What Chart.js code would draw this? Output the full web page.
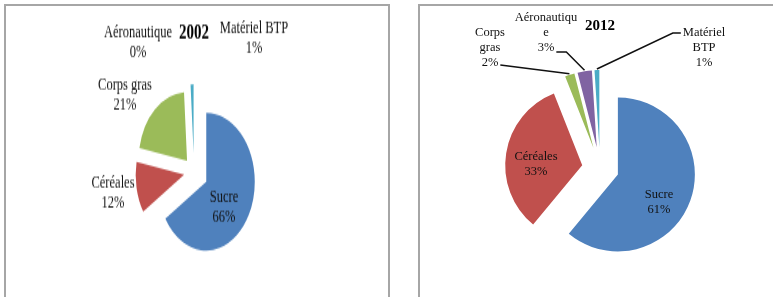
<!DOCTYPE html>
<html>
<head>
<meta charset="utf-8">
<script src="https://cdn.jsdelivr.net/npm/chart.js@4.4.1/dist/chart.umd.min.js"></script>
<style>
  body { margin: 0; background: #fff; width: 773px; height: 297px; overflow: hidden; position: relative; }
  .box { position: absolute; top: 4px; height: 300px; border: 2px solid #a6a6a6; border-bottom: none; box-sizing: border-box; }
  #box1 { left: 4px; width: 386px; }
  #box2 { left: 418px; width: 400px; border-right: none; }
  canvas { position: absolute; }
  /* the 2002 picture is stretched vertically in the source */
  #chart2002 { left: 6px; top: 6px; transform: scaleY(1.42); transform-origin: 0 0; }
  #chart2012 { left: 420px; top: 6px; }
</style>
</head>
<body>
<div class="box" id="box1"></div>
<div class="box" id="box2"></div>
<canvas id="chart2002" width="380" height="205"></canvas>
<canvas id="chart2012" width="353" height="291"></canvas>
<script>
const categories = ['Sucre', 'Céréales', 'Corps gras', 'Aéronautique', 'Matériel BTP'];
const share2002 = [66, 12, 21, 0, 1];
const share2012 = [61, 33, 2, 3, 1];
const colors = ['#4f81bd', '#c0504d', '#9bbb59', '#8064a2', '#4bacc6'];

// how each category name is broken on lines in the two charts
const names2002 = [['Sucre'], ['Céréales'], ['Corps gras'], ['Aéronautique'], ['Matériel BTP']];
const names2012 = [['Sucre'], ['Céréales'], ['Corps', 'gras'], ['Aéronautiqu', 'e'], ['Matériel', 'BTP']];

// pulls each slice out along its middle angle, then writes the labels
const pieExtras = {
  id: 'pieExtras',
  beforeDatasetsDraw(chart, args, opts) {
    const meta = chart.getDatasetMeta(0);
    meta.data.forEach((arc, i) => {
      const mid = (arc.startAngle + arc.endAngle) / 2;
      const d = opts.explode[i] || 0;
      arc._home = [arc.x, arc.y];
      arc.x += Math.cos(mid) * d;
      arc.y += Math.sin(mid) * d;
    });
  },
  afterDatasetsDraw(chart, args, opts) {
    const meta = chart.getDatasetMeta(0);
    const ctx = chart.ctx;
    const values = chart.data.datasets[0].data;
    const cx = meta.data[0]._home[0], cy = meta.data[0]._home[1];
    const lh = opts.lineHeight;
    ctx.save();
    ctx.font = opts.font;
    ctx.fillStyle = '#111';
    ctx.strokeStyle = '#111';
    ctx.lineWidth = 1.5;
    ctx.textAlign = 'center';
    ctx.textBaseline = 'middle';
    meta.data.forEach((arc, i) => {
      const lines = opts.names[i].concat([values[i] + '%']);
      const x = cx + opts.labelAt[i][0];
      const y0 = cy + opts.labelAt[i][1] - (lines.length - 1) * lh / 2;
      lines.forEach((t, j) => ctx.fillText(t, x, y0 + j * lh));
      const lead = opts.leaders[i];
      if (lead) {
        const ly = y0 + lead.line * lh + lead.dy;
        const w = ctx.measureText(lines[lead.line]).width / 2 + 2;
        const ex = lead.side == 'right' ? x + w : x - w;
        const tx = lead.side == 'right' ? ex + lead.tail : ex - lead.tail;
        const mid = (arc.startAngle + arc.endAngle) / 2;
        const px = arc.x + Math.cos(mid) * (arc.outerRadius + 1);
        const py = arc.y + Math.sin(mid) * (arc.outerRadius + 1);
        ctx.beginPath();
        ctx.moveTo(px, py);
        ctx.lineTo(tx, ly);
        ctx.lineTo(ex, ly);
        ctx.stroke();
      }
    });
    ctx.restore();
    meta.data.forEach(arc => { arc.x = arc._home[0]; arc.y = arc._home[1]; });
  }
};

function pieChart(id, values, radius, padding, title, titlePad, extras) {
  return new Chart(document.getElementById(id), {
    type: 'pie',
    data: {
      labels: categories,
      datasets: [{
        data: values,
        backgroundColor: colors,
        borderWidth: 0,
        hoverOffset: 0,
        radius: radius
      }]
    },
    options: {
      responsive: false,
      animation: false,
      events: [],
      layout: { padding: padding },
      plugins: {
        legend: { display: false },
        tooltip: { enabled: false },
        title: {
          display: true,
          text: title,
          color: '#000',
          font: { family: 'Liberation Serif', size: 15, weight: 'bold', lineHeight: 1.2 },
          padding: titlePad
        },
        pieExtras: extras
      }
    },
    plugins: [pieExtras]
  });
}

pieChart('chart2002', share2002, 48.5, { left: 0, right: 4, top: 0, bottom: 0 }, '2002', { top: 10, bottom: 1 }, {
  explode: [14, 10, 10.5, 12, 13.4],
  names: names2002,
  font: '12.5px "Liberation Serif"',
  lineHeight: 14,
  labelAt: [[30, 25], [-81, 15], [-69, -54], [-56, -91], [60, -94]],
  leaders: [null, null, null, null, null]
});

pieChart('chart2012', share2012, 77, { left: 7, right: 0, top: 0, bottom: 0 }, '2012', { top: 11, bottom: 4 }, {
  explode: [19, 18, 21, 21, 21],
  names: names2012,
  font: '12.5px "Liberation Serif"',
  lineHeight: 15,
  labelAt: [[59, 34], [-64, -4], [-110, -120], [-54, -135], [104, -120]],
  leaders: [
    null,
    null,
    { line: 2, side: 'right', tail: 0, dy: 2 },
    { line: 2, side: 'right', tail: 10, dy: 4 },
    { line: 0, side: 'left', tail: 8, dy: 0 }
  ]
});
</script>
</body>
</html>
